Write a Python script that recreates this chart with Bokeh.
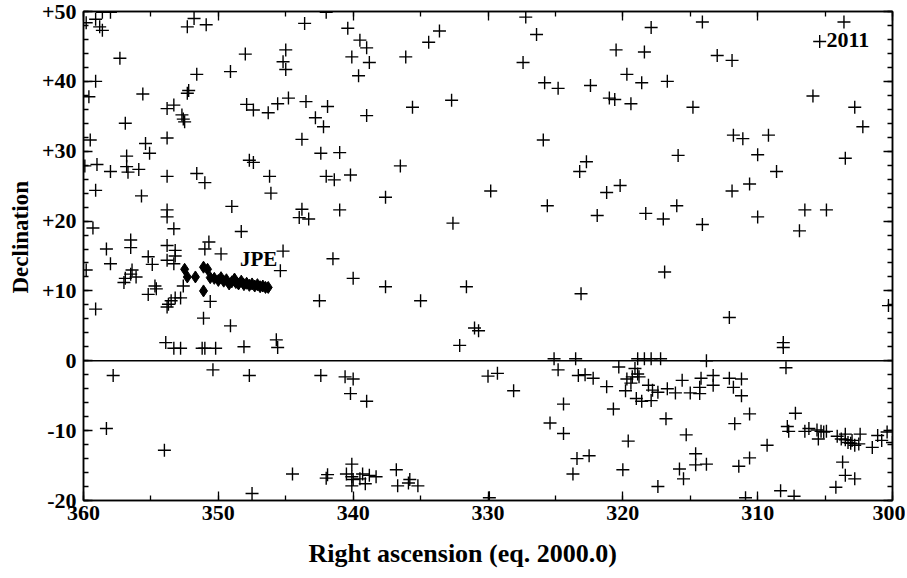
from bokeh.plotting import figure
from bokeh.models import Range1d, LinearAxis, SingleIntervalTicker, Span, Title
from bokeh.core.properties import value
from bokeh.embed import file_html
from bokeh.resources import INLINE

# Stars (+ markers): right ascension and declination in degrees
star_ra = [
    359.8, 359.1, 358.8, 358.6, 358.6, 358.0, 357.3, 359.1, 359.6, 355.6, 356.9, 359.5, 355.4, 355.1, 356.8,
    359.9, 359.0, 358.0, 356.8, 356.7, 355.9, 353.8, 353.3, 352.7, 352.6, 352.5, 352.3, 352.2, 353.8, 352.3,
    351.8, 350.9, 351.6, 349.1, 348.0, 347.9, 347.4, 346.3, 347.7, 347.4, 353.8, 351.6,
    351.0, 359.1, 355.7, 349.0, 348.3, 353.8, 353.8, 359.3, 353.3, 356.5, 356.5, 358.3, 358.0, 353.8, 353.2,
    353.2, 355.2, 354.9, 353.8, 353.3, 350.7, 351.0, 349.8, 359.8, 356.4, 356.5, 356.1, 356.9, 357.0, 354.7,
    354.6, 355.2, 353.7, 353.5, 353.2, 352.8, 353.8, 352.6, 359.1, 350.6, 351.1, 349.1,
    353.9, 353.3, 352.8, 351.2, 351.0, 350.2, 348.1,
    357.8, 350.4, 347.7, 358.3, 354.0, 347.5,
    342.0, 343.6, 340.4, 339.5, 339.0, 340.1, 338.8, 339.6, 345.0, 345.2, 345.0, 336.1, 334.4, 333.6, 345.6,
    344.8, 343.5, 341.9, 342.8, 342.2, 343.8, 342.4, 341.0, 339.0, 335.6, 332.7, 336.5,
    346.2, 346.1, 342.0, 341.4, 340.2, 337.6, 343.8, 344.0, 343.3, 341.0, 332.6, 345.2, 345.4, 341.5, 340.0,
    337.6, 331.6, 342.5, 335.0, 345.7, 345.6, 332.1, 331.0, 330.7,
    342.4, 340.6, 340.0, 340.2, 339.0, 344.5, 341.9, 342.0, 340.1, 340.5, 340.1, 340.0, 340.1, 339.3, 339.1,
    338.8, 338.3, 339.5, 336.8, 336.7, 335.8, 335.9, 335.2,
    327.2, 326.4, 327.4, 325.8, 324.8, 322.4, 317.9, 320.5, 318.4, 319.7, 318.6, 316.7, 321.0, 320.6, 319.4,
    325.9, 322.7, 323.2, 315.9,
    329.8, 325.6, 321.2, 320.2, 321.9, 318.3, 317.0, 316.0, 316.9, 323.1,
    325.1, 323.5, 318.9, 318.4, 317.9, 317.2, 330.0, 329.3, 328.1, 324.8, 323.3, 322.8, 322.2, 321.2, 320.3,
    319.1, 318.9, 319.7, 319.4, 319.8, 318.1, 317.8, 317.4, 319.0, 318.6, 317.9, 316.7, 316.1, 324.4, 320.7,
    316.8, 325.4, 324.4, 319.6, 323.4, 322.5, 323.7, 320.0, 317.4, 329.9, 315.8, 319.3, 318.8,
    314.1, 303.6, 305.4, 313.0, 311.9, 305.9, 314.8, 302.8, 302.2, 311.8, 311.1, 309.2, 310.0, 308.6, 303.5,
    311.9, 310.6, 314.1, 310.0, 306.5, 304.9, 306.9, 300.3, 312.1, 308.1, 308.1,
    313.8, 307.9, 315.6, 314.2, 313.3, 312.1, 311.2, 315.0, 314.3, 314.3, 313.3, 311.8, 311.2, 310.6, 311.7,
    307.2, 315.3, 309.3, 314.6, 314.6, 313.8, 315.5, 311.4, 310.6, 310.9, 308.3, 307.3, 307.8, 307.7, 306.5,
    306.2, 305.6, 305.5, 305.3, 305.1, 304.9, 304.1, 303.8, 303.5, 303.5, 303.3, 303.1, 303.0, 302.8, 302.5,
    302.4, 301.5, 301.1, 300.8, 300.4, 300.0, 303.7, 303.5, 302.8, 304.2,
]
star_dec = [
    48.4, 48.9, 47.8, 47.3, 49.9, 49.9, 43.3, 40.0, 37.8, 38.2, 34.0, 31.6, 31.1, 29.7, 29.3,
    27.9, 28.1, 27.1, 27.8, 27.0, 27.4, 36.1, 36.6, 35.2, 34.6, 34.2, 38.3, 38.7, 31.9, 47.8,
    49.0, 48.1, 41.0, 41.4, 43.9, 36.7, 35.9, 35.5, 28.7, 28.4, 26.4, 26.8,
    25.5, 24.4, 23.6, 22.1, 18.5, 21.6, 20.6, 19.0, 18.9, 17.3, 16.2, 16.0, 13.9, 16.5, 15.8,
    15.0, 14.9, 13.8, 14.4, 13.9, 17.0, 16.0, 15.3, 13.0, 13.0, 12.4, 12.0, 11.8, 11.2, 10.7,
    10.3, 9.5, 8.1, 8.6, 9.0, 9.0, 7.7, 10.7, 7.4, 8.5, 6.1, 5.0,
    2.6, 1.8, 1.8, 1.8, 1.8, 1.8, 2.0,
    -2.1, -1.3, -2.1, -9.7, -12.8, -19.0,
    49.9, 48.3, 47.6, 45.9, 44.8, 43.5, 42.7, 40.8, 44.5, 42.8, 41.7, 43.5, 45.6, 47.2, 36.8,
    37.6, 37.1, 36.4, 34.8, 33.5, 31.7, 29.7, 29.8, 35.1, 36.3, 37.3, 27.9,
    26.4, 24.0, 26.4, 25.9, 26.6, 23.4, 21.7, 20.5, 20.3, 21.6, 19.7, 15.7, 12.9, 14.6, 11.8,
    10.6, 10.6, 8.6, 8.6, 3.0, 1.9, 2.2, 4.7, 4.3,
    -2.1, -2.3, -2.6, -4.7, -5.8, -16.2, -16.3, -16.8, -14.8, -16.2, -16.6, -17.0, -17.9, -16.2, -17.6,
    -16.4, -16.6, -16.9, -15.6, -17.9, -17.0, -17.5, -17.9,
    49.2, 46.7, 42.7, 39.8, 39.0, 39.4, 47.7, 44.5, 44.2, 41.0, 39.8, 40.0, 37.6, 37.4, 36.8,
    31.6, 28.5, 27.1, 29.4,
    24.3, 22.2, 24.1, 25.1, 20.8, 21.1, 20.3, 22.2, 12.7, 9.6,
    0.3, 0.3, 0.3, 0.3, 0.3, 0.3, -2.2, -1.8, -4.3, -1.3, -2.1, -2.0, -2.5, -3.7, -0.9,
    -1.1, -1.9, -2.6, -3.2, -4.3, -3.5, -4.2, -4.5, -5.4, -5.8, -5.7, -4.0, -4.6, -6.2, -6.9,
    -8.3, -8.9, -10.4, -11.5, -14.0, -13.6, -16.2, -15.6, -18.0, -19.6, -15.5, -2.3, -2.3,
    48.5, 48.5, 45.7, 43.7, 43.0, 37.9, 36.3, 36.3, 33.5, 32.3, 31.8, 32.3, 29.5, 27.1, 29.0,
    24.3, 25.3, 19.5, 20.6, 21.6, 21.6, 18.6, 7.9, 6.2, 2.6, 1.9,
    0.0, -1.0, -2.8, -2.5, -2.1, -2.5, -2.6, -4.6, -3.8, -4.7, -3.5, -3.8, -5.0, -7.6, -9.0,
    -7.5, -10.6, -12.1, -13.3, -14.9, -14.8, -16.9, -15.1, -13.9, -19.6, -18.6, -19.4, -9.4, -10.1, -10.1,
    -9.7, -9.9, -11.2, -10.1, -10.2, -10.1, -10.8, -11.2, -11.3, -10.5, -11.7, -11.8, -11.4, -12.1, -11.9,
    -10.5, -12.4, -10.7, -11.4, -10.2, -11.7, -14.5, -16.4, -16.9, -18.1,
]

# JPE track (filled diamonds)
jpe_ra = [352.5, 352.3, 351.7, 351.1, 350.8, 351.1, 350.6, 350.3, 350.0, 349.8, 349.6, 349.4, 349.2, 349.0,
          348.8, 348.7, 348.5, 348.3, 348.1, 347.9, 347.7, 347.5, 347.3, 347.1, 346.9, 346.7, 346.5, 346.3]
jpe_dec = [13.1, 12.0, 12.0, 13.4, 13.1, 10.0, 11.9, 11.8, 11.5, 11.9, 11.4, 11.6, 11.0, 11.3,
           11.7, 11.2, 11.0, 11.4, 10.9, 11.1, 10.8, 11.0, 10.7, 10.9, 10.6, 10.7, 10.5, 10.5]

y_tick_labels = {50: "+50", 40: "+40", 30: "+30", 20: "+20", 10: "+10", 0: "0", -10: "-10", -20: "-20"}
x_title = "Right ascension (eq. 2000.0)"
y_title = "Declination"

FONT = "Liberation Serif"

p = figure(width=905, height=582, output_backend="svg", toolbar_location=None,
           x_range=Range1d(360, 300), y_range=Range1d(-20, 50),
           min_border_left=82, min_border_right=13, min_border_top=11, min_border_bottom=82)
p.xgrid.visible = False
p.ygrid.visible = False
p.outline_line_color = "black"
p.outline_line_width = 1.5
p.background_fill_color = "white"
p.border_fill_color = "white"

def style_axis(ax, labels=True):
    ax.axis_line_color = "black"
    ax.axis_line_width = 1.5
    ax.major_tick_in = 9
    ax.major_tick_out = 0
    ax.minor_tick_in = 5
    ax.minor_tick_out = 0
    ax.major_tick_line_width = 1.3
    ax.minor_tick_line_width = 1.3
    ax.major_tick_line_color = "black"
    ax.minor_tick_line_color = "black"
    if labels:
        ax.major_label_text_font = FONT
        ax.major_label_text_font_style = "bold"
        ax.major_label_text_font_size = "22px"
        ax.major_label_text_color = "black"
    else:
        ax.major_label_text_font_size = "0px"
        ax.major_label_text_color = None
        ax.major_label_standoff = 0

xa = p.xaxis[0]
xa.ticker = SingleIntervalTicker(interval=10, num_minor_ticks=2)
style_axis(xa)
xa.major_label_standoff = 5

ya = p.yaxis[0]
ya.ticker = SingleIntervalTicker(interval=10, num_minor_ticks=5)
style_axis(ya)
ya.major_label_overrides = y_tick_labels
ya.major_label_standoff = 7

top = LinearAxis(ticker=SingleIntervalTicker(interval=10, num_minor_ticks=2))
style_axis(top, labels=False)
p.add_layout(top, "above")
right = LinearAxis(ticker=SingleIntervalTicker(interval=10, num_minor_ticks=5))
style_axis(right, labels=False)
p.add_layout(right, "right")

p.add_layout(Title(text=x_title, align="left", offset=225, text_font=FONT, text_font_style="bold",
                   text_font_size="26px", text_color="black", standoff=28), "below")
p.add_layout(Title(text=y_title, align="left", offset=207, text_font=FONT, text_font_style="bold",
                   text_font_size="23px", text_color="black", standoff=11), "left")

p.add_layout(Span(location=0, dimension="width", line_color="black", line_width=1.5))

p.scatter(star_ra, star_dec, marker="cross", size=13, line_color="black", line_width=1.4)
p.scatter(jpe_ra, jpe_dec, marker="diamond", size=12, fill_color="black", line_color="black")

p.text(x=[348.4], y=[14.6], text=["JPE"], text_font=value(FONT), text_font_style="bold",
       text_font_size="21px", text_baseline="middle", text_align="left", text_color="black")
p.text(x=[304.9], y=[45.9], text=["2011"], text_font=value(FONT), text_font_style="bold",
       text_font_size="22px", text_baseline="middle", text_align="left", text_color="black")

open("out.html", "w").write(file_html(p, INLINE))
